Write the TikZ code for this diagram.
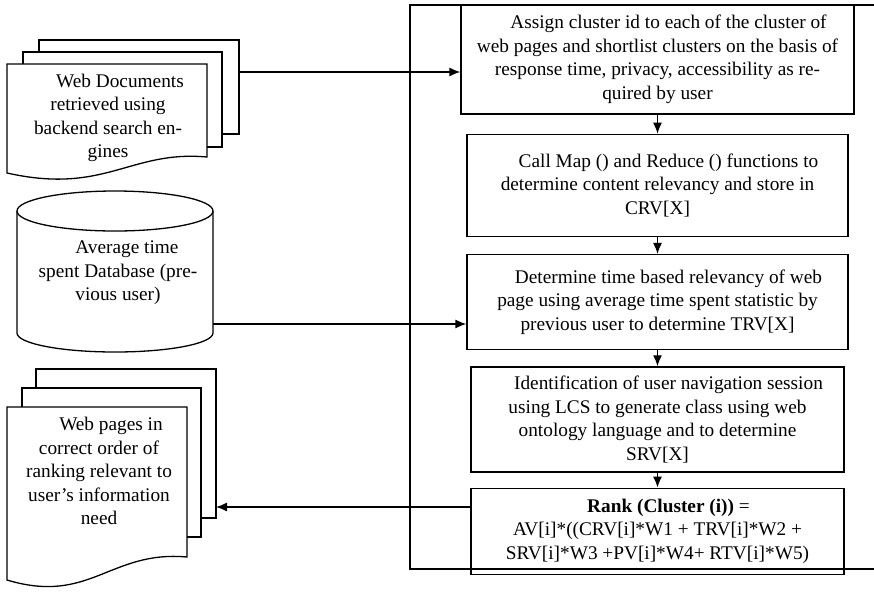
\documentclass[tikz,border=0pt]{standalone}
\usepackage{fontspec}
\setmainfont{Liberation Serif}
\usepackage{tikz}
\usetikzlibrary{arrows.meta,positioning}

\begin{document}
\begin{tikzpicture}[x=1pt,y=-1pt,>={Latex[length=11pt,width=9pt]},line width=1.3pt,
  box node/.style={draw,align=center,inner sep=4pt,font=\fontsize{19.3}{23.5}\selectfont},
  text node/.style={align=center,inner sep=0pt,font=\fontsize{19.3}{23.5}\selectfont}]
  \useasboundingbox (0,0) rectangle (874,592);

  % outer frame
  \draw (874,5) -- (410,5) -- (410,569) -- (874,569);

  % process boxes
  \node[box node,minimum width=393pt,minimum height=109pt] (1) at (657.5,59.5)
    {\hspace*{22pt}Assign cluster id to each of the cluster of\\ web pages and shortlist clusters on the basis of\\ response time, privacy, accessibility as re-\\quired by user};
  \node[box node,minimum width=381pt,minimum height=102pt] (2) [below=19pt of 1]
    {\hspace*{22pt}Call Map () and Reduce () functions to\\ determine content relevancy and store in\\ CRV[X]};
  \node[box node,minimum width=381pt,minimum height=95pt] (3) [below=17pt of 2]
    {\hspace*{22pt}Determine time based relevancy of web\\ page using average time spent statistic by\\ previous user to determine TRV[X]};
  \node[box node,minimum width=373pt,minimum height=105pt] (4) [below=16pt of 3]
    {\hspace*{22pt}Identification of user navigation session\\ using LCS to generate class using web\\ ontology language and to determine\\ SRV[X]};
  \node[box node,minimum width=373pt,minimum height=86pt] (5) [below=15pt of 4]
    {\hspace*{22pt}\textbf{Rank (Cluster (i))} =\\ AV[i]*((CRV[i]*W1 + TRV[i]*W2 +\\ SRV[i]*W3 +PV[i]*W4+ RTV[i]*W5)};

  % input documents
  \draw (39,52) -- (39,40) -- (239,40) -- (239,134) -- (222,134);
  \draw (23,64) -- (23,52) -- (222,52) -- (222,147) -- (207,147);
  \draw (7,64) -- (207,64) -- (207,157) .. controls (130,150) and (105,195) .. (7,173) -- cycle;
  \node[text node] (6) at (108,118)
    {\hspace*{24pt}Web Documents\\ retrieved using\\ backend search en-\\gines};
  \coordinate (6e) at (239,72);

  % database
  \draw (115,211) ellipse [x radius=98pt,y radius=20pt];
  \draw (17,211) -- (17,333) arc [start angle=180,end angle=360,x radius=98pt,y radius=19pt] -- (213,211);
  \node[text node] (7) at (118,273)
    {\hspace*{18pt}Average time\\ spent Database (pre-\\vious user)};
  \coordinate (7e) at (213,324);

  % output documents
  \draw (36,388) -- (36,369) -- (216,369) -- (216,518) -- (201,518);
  \draw (22,407) -- (22,388) -- (201,388) -- (201,537) -- (187,537);
  \draw (7,407) -- (187,407) -- (187,557) .. controls (110,550) and (90,605) .. (7,580) -- cycle;
  \node[text node] (8) at (99,471)
    {\hspace*{24pt}Web pages in\\ correct order of\\ ranking relevant to\\ user's information\\ need};
  \coordinate (8e) at (216,507);

  \path[->]
    (1) edge (2)
    (2) edge (3)
    (3) edge (4)
    (4) edge (5)
    (6e) edge (6e -| 1.west)
    (7e) edge (7e -| 3.west)
    (8e -| 5.west) edge (8e);
\end{tikzpicture}
\end{document}
